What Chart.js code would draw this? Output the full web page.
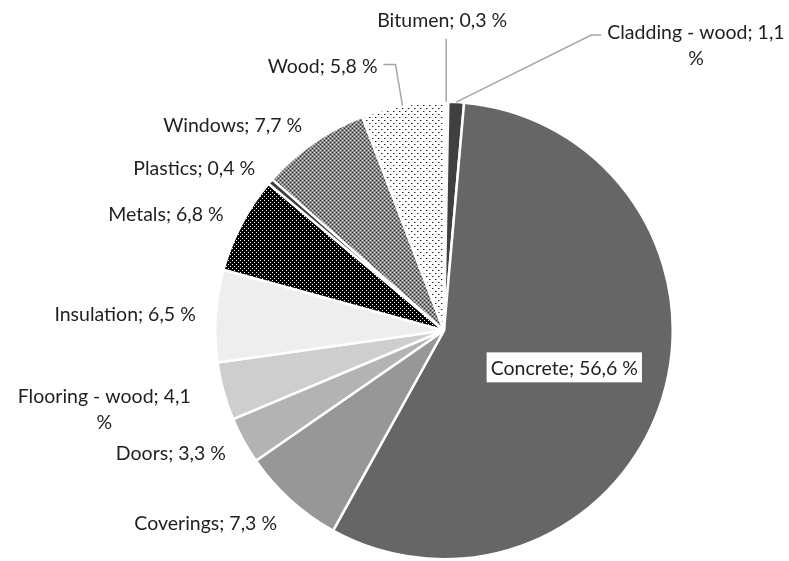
<!DOCTYPE html>
<html>
<head>
<meta charset="utf-8">
<script src="https://cdn.jsdelivr.net/npm/chart.js@4"></script>
<style>
  html, body { margin: 0; padding: 0; background: #fff; }
  #wrap { width: 789px; height: 561px; }
</style>
</head>
<body>
<div id="wrap"><canvas id="pieGraph" width="789" height="561"></canvas></div>
<script>
// data (percent shares, Excel order = alphabetical, clockwise from 12 o'clock)
var categories = ['Bitumen', 'Cladding - wood', 'Concrete', 'Coverings', 'Doors', 'Flooring - wood',
                  'Insulation', 'Metals', 'Plastics', 'Windows', 'Wood'];
var shares = [0.3, 1.1, 56.6, 7.3, 3.3, 4.1, 6.5, 6.8, 0.4, 7.7, 5.8];

var labelFont = '19.5px Lato';
var textColor = '#1f1f1f';
var leaderColor = '#a6a6a6';

// small tiled fills like the Excel pattern fills
function makePattern(size, bg, dots) {
    var c = document.createElement('canvas');
    c.width = size; c.height = size;
    var g = c.getContext('2d');
    g.fillStyle = bg;
    g.fillRect(0, 0, size, size);
    dots.forEach(function (d) {
        g.fillStyle = d[2];
        g.fillRect(d[0], d[1], 1, 1);
    });
    return g.createPattern(c, 'repeat');
}
var ctx0 = document.getElementById('pieGraph').getContext('2d');
var metalsFill = makePattern(4, '#000000', [[0, 0, '#ffffff'], [2, 2, '#ffffff']]);
var windowsFill = makePattern(4, '#878787', [[0, 0, '#2a2a2a'], [2, 2, '#2a2a2a'], [2, 0, '#e6e6e6'], [0, 2, '#e6e6e6']]);
var woodFill = makePattern(6, '#ffffff', [[0, 0, '#222222'], [1, 0, '#999999'], [3, 3, '#222222'], [4, 3, '#999999']]);

var sliceFills = ['#ffffff', '#404040', '#666666', '#979797', '#b3b3b3', '#cecece',
                  '#eeeeee', metalsFill, '#3c3c3c', windowsFill, woodFill];

// labels dragged out with leader lines: elbow offset from the slice edge, then a short run
var callouts = {
    'Bitumen': { elbow: [0, -63], run: 0, side: 'top' },
    'Cladding - wood': { elbow: [135, -67], run: 10, side: 'right' },
    'Wood': { elbow: [-7, -41], run: -12, side: 'left' }
};
var insideLabels = ['Concrete'];

function labelText(i) {
    return categories[i] + '; ' + shares[i].toFixed(1).replace('.', ',') + ' %';
}

function splitLines(ctx, text) {
    if (ctx.measureText(text).width <= 180) return [text];
    var cut = text.lastIndexOf(' ');
    return [text.slice(0, cut), text.slice(cut + 1)];
}

function drawLines(ctx, lines, boxX, y, align) {
    // boxX is the left edge ('left'), right edge ('right') or centre ('center') of the label box
    var w = Math.max.apply(null, lines.map(function (l) { return ctx.measureText(l).width; }));
    var cx = align === 'left' ? boxX + w / 2 : align === 'right' ? boxX - w / 2 : boxX;
    ctx.textAlign = 'center';
    lines.forEach(function (l, k) {
        ctx.fillText(l, cx, y + k * 26);
    });
}

var pieLabels = {
    id: 'pieLabels',
    afterDatasetsDraw: function (chart) {
        var ctx = chart.ctx;
        var arcs = chart.getDatasetMeta(0).data;
        ctx.save();
        ctx.font = labelFont;
        ctx.textBaseline = 'middle';
        arcs.forEach(function (arc, i) {
            var p = arc.getProps(['x', 'y', 'startAngle', 'endAngle', 'outerRadius'], true);
            var mid = (p.startAngle + p.endAngle) / 2;
            var dx = Math.cos(mid), dy = Math.sin(mid);
            var R = p.outerRadius;
            var text = labelText(i);
            var name = categories[i];
            ctx.fillStyle = textColor;

            if (insideLabels.indexOf(name) >= 0) {
                var ix = p.x + dx * R * 0.55, iy = p.y + dy * R * 0.55;
                var tw = ctx.measureText(text).width;
                ctx.fillStyle = '#ffffff';
                ctx.fillRect(ix - tw / 2 - 4, iy - 15, tw + 8, 30);
                ctx.fillStyle = textColor;
                ctx.textAlign = 'center';
                ctx.fillText(text, ix, iy + 1);
                return;
            }

            var lines = splitLines(ctx, text);
            var co = callouts[name];
            if (co) {
                var ex = p.x + dx * R, ey = p.y + dy * R;
                var bx = ex + co.elbow[0], by = ey + co.elbow[1];
                var endX = bx + co.run;
                ctx.strokeStyle = leaderColor;
                ctx.lineWidth = 1.5;
                ctx.beginPath();
                ctx.moveTo(ex, ey);
                ctx.lineTo(bx, by);
                ctx.lineTo(endX, by);
                ctx.stroke();
                ctx.fillStyle = textColor;
                if (co.side === 'right') drawLines(ctx, lines, endX + 6, by - 2, 'left');
                else if (co.side === 'left') drawLines(ctx, lines, endX - 6, by + 2, 'right');
                else drawLines(ctx, lines, endX - 4, by - 18, 'center');
                return;
            }

            // wrapped labels sit a little further out
            var gap = lines.length > 1 ? 34 : 20;
            var px = p.x + dx * (R + gap), py = p.y + dy * (R + 20);
            py += Math.max(0, dy - 0.3) * 20;
            drawLines(ctx, lines, px, py, dx < 0 ? 'right' : 'left');
        });
        ctx.restore();
    }
};

var chart = new Chart(ctx0, {
    type: 'pie',
    data: {
        labels: categories,
        datasets: [{
            data: shares,
            backgroundColor: sliceFills,
            borderColor: '#ffffff',
            borderWidth: 2.5
        }]
    },
    options: {
        responsive: false,
        animation: false,
        devicePixelRatio: 1,
        layout: { padding: { top: 100, bottom: 0, left: 214, right: 115 } },
        plugins: {
            legend: { display: false },
            tooltip: { enabled: false }
        }
    },
    plugins: [pieLabels]
});
</script>
</body>
</html>
